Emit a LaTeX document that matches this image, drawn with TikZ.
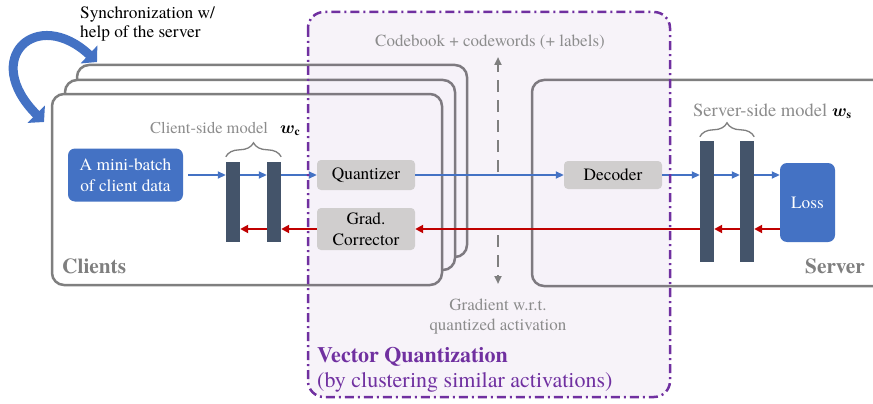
\documentclass[tikz,border=0pt]{standalone}
\usepackage{amsmath}
\usepackage{bm}
\usepackage{fontspec}
\setmainfont{TeX Gyre Termes}
\usetikzlibrary{arrows.meta,decorations.pathreplacing}
\definecolor{cblue}{HTML}{4472C4}
\definecolor{cred}{HTML}{C00000}
\definecolor{bardark}{HTML}{44546A}
\definecolor{boxgray}{HTML}{D0CECE}
\definecolor{framegray}{HTML}{7F7F7F}
\definecolor{textgray}{HTML}{8C8C8C}
\definecolor{vqpurple}{HTML}{7030A0}
\newcommand\fsbody{\fontsize{17.3}{21}\selectfont}
\newcommand\fslabel{\fontsize{17}{20}\selectfont}
\newcommand\fsclient{\fontsize{16.5}{20}\selectfont}
\newcommand\fsserver{\fontsize{18.5}{22}\selectfont}
\newcommand\fsbig{\fontsize{21.3}{25}\selectfont}
\newcommand\fsvq{\fontsize{22}{26}\selectfont}
\begin{document}
\begin{tikzpicture}[x=1pt,y=-1pt,
  graybox/.style={fill=boxgray, rounded corners=4pt, minimum width=98pt, align=center, inner sep=0pt, font=\fsbody},
  bluebox/.style={fill=cblue, rounded corners=7pt, align=center, inner sep=0pt, text=white, font=\fsbody},
  barnode/.style={fill=bardark, minimum width=14pt, inner sep=0pt},
  barrow/.style={draw=cblue, line width=1.8pt, -{Triangle[length=8pt,width=7pt]}},
  rarrow/.style={draw=cred, line width=2.2pt, -{Triangle[length=8pt,width=8pt]}},
  garrow/.style={draw=framegray, line width=2pt, dash pattern=on 12pt off 8pt, -{Triangle[length=8pt,width=7pt]}},
  frame/.style={draw=framegray, line width=2.5pt, rounded corners=12pt, fill=white},
  bracestyle/.style={draw=framegray, line width=1.3pt, decorate, decoration={brace, amplitude=14pt}},
  graylabel/.style={text=textgray, font=\fslabel, inner sep=0pt},
  bigbold/.style={text=framegray, font=\fsbig\bfseries, inner sep=0pt},
  purplelabel/.style={text=vqpurple, font=\fsvq, inner sep=0pt},
  plain/.style={font=\fsbody, inner sep=0pt}
]
\useasboundingbox (0,0) rectangle (873,404);
\clip (0,0) rectangle (873,404);

% server frame
\draw[frame] (532,80) rectangle (900,286);
% client frames
\draw[frame] (77,65) rectangle (467,257);
\draw[frame] (65,80) rectangle (455,270);
\draw[frame] (52,94) rectangle (442,285);

% vector quantization region
\fill[vqpurple, fill opacity=0.06, rounded corners=16pt] (308,12) rectangle (670,397);

% sync arrow
\draw[cblue, line width=9pt, {Triangle[length=11pt,width=24pt]}-{Triangle[length=11pt,width=24pt]}]
  (44,122) .. controls (-20,58) and (37,6) .. (97,62);
\node[plain, anchor=base west] (synctext1) at (80,19) {Synchronization w/};
\node[plain, anchor=base west] (synctext2) at (80,38) {help of the server};

% nodes
\node[bluebox, minimum width=115pt, minimum height=53pt] (mb) at (125.5,175) {A mini-batch\\of client data};
\node[barnode, minimum height=80pt] (cb1) at (233,202) {};
\node[barnode, minimum height=80pt] (cb2) at (274,202) {};
\node[graybox, minimum height=30pt] (quant) at (366,175) {Quantizer};
\node[graybox, minimum height=42pt] (grad) at (366,229) {Grad.\\Corrector};
\node[graybox, minimum height=28pt] (dec) at (613,175) {Decoder};
\node[barnode, minimum height=121pt] (sb1) at (707,201.5) {};
\node[barnode, minimum height=121pt] (sb2) at (747,201.5) {};
\node[bluebox, minimum width=55pt, minimum height=79pt] (loss) at (807.5,202.5) {Loss};

% blue forward arrows
\draw[barrow] ([xshift=5pt]mb.east) -- (cb1.west |- mb.east);
\draw[barrow] (cb1.east |- quant) -- (cb2.west |- quant);
\draw[barrow] (cb2.east |- quant) -- (quant.west);
\draw[barrow] (quant.east) -- (dec.west);
\draw[barrow] (dec.east) -- (sb1.west |- dec);
\draw[barrow] (sb1.east |- dec) -- (sb2.west |- dec);
\draw[barrow] (sb2.east |- dec) -- (loss.west |- dec);

% red backward arrows
\draw[rarrow] (loss.west |- grad) -- (sb2.east |- grad);
\draw[rarrow] (sb2.west |- grad) -- (sb1.east |- grad);
\draw[rarrow] (sb1.west |- grad) -- (grad.east);
\draw[rarrow] (grad.west) -- (cb2.east |- grad);
\draw[rarrow] (cb2.west |- grad) -- (cb1.east |- grad);

% braces and model labels
\draw[bracestyle] ([yshift=5pt]cb1.north west) -- ([yshift=5pt]cb2.north east);
\draw[bracestyle] ([yshift=4pt]sb1.north west) -- ([yshift=4pt]sb2.north east);
\node[graylabel, font=\fsclient, anchor=base west] (clabel) at (150,133) {Client-side model};
\node[inner sep=0pt, anchor=base west, font=\fsclient] (wc) at (280,133) {$\bm{w}_{\mathbf{c}}$};
\node[graylabel, font=\fsserver, anchor=base west] (slabel) at (693,116) {Server-side model};
\node[inner sep=0pt, anchor=base west, font=\fsclient] (ws) at (832,116) {$\bm{w}_{\mathbf{s}}$};

% dashed exchange arrows
\coordinate (up1) at (498,172);
\coordinate (up2) at (498,57);
\coordinate (dn1) at (498,235);
\coordinate (dn2) at (498,284);
\draw[garrow] (up1) -- (up2);
\draw[garrow] (dn1) -- (dn2);
\node[graylabel, anchor=base] (cbtext) at (490,47) {Codebook + codewords (+ labels)};
\node[graylabel, anchor=base] (gtext1) at (498,310) {Gradient w.r.t.};
\node[graylabel, anchor=base] (gtext2) at (498,330) {quantized activation};

% frame labels
\node[bigbold, anchor=base west] (clients) at (62,273) {Clients};
\node[bigbold, anchor=base east] (server) at (865,273) {Server};

% VQ region border and labels
\draw[vqpurple, line width=2.5pt, rounded corners=16pt, dash pattern=on 9pt off 4pt on 2pt off 4pt] (308,12) rectangle (670,397);
\node[purplelabel, anchor=base west, font=\fsvq\bfseries] (vq1) at (317,362) {Vector Quantization};
\node[purplelabel, anchor=base west] (vq2) at (317,387) {(by clustering similar activations)};
\end{tikzpicture}
\end{document}
